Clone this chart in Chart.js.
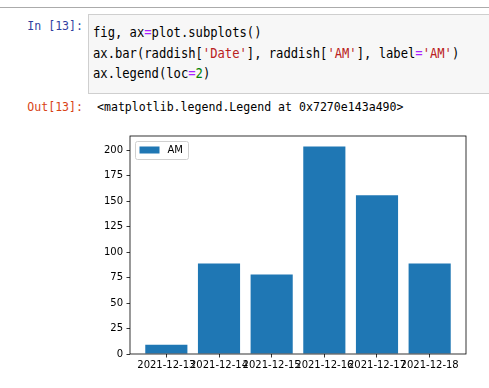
<!DOCTYPE html>
<html>
<head>
<meta charset="utf-8">
<script src="https://cdn.jsdelivr.net/npm/chart.js@4.4.1/dist/chart.umd.min.js"></script>
<style>
  html, body { margin: 0; padding: 0; background: #fff; }
  body { width: 489px; height: 388px; position: relative; overflow: hidden; }
  .rule { position: absolute; left: 0; top: 7px; width: 489px; height: 1px; background: #ababab; }
  .codebox { position: absolute; left: 88px; top: 14px; width: 401px; height: 78px;
             background: #f7f7f7; border: 1px solid #cfcfcf; border-right: none; }
  .mono { font-family: "DejaVu Sans Mono", "Liberation Mono", monospace; white-space: pre; position: absolute; }
  .code { left: 93px; top: 22px; font-size: 14px; line-height: 20.5px; color: #000;
          transform: scaleX(0.869); transform-origin: left top; }
  .prompt { width: 100px; text-align: right; font-size: 13px; transform: scaleX(0.89); transform-origin: right top; }
  .in { left: -17px; top: 18px; color: #303F9F; }
  .out { left: -17px; top: 99px; color: #D84315; }
  .result { left: 97px; top: 99px; font-size: 13px; color: #000; transform: scaleX(0.89); transform-origin: left top; }
  .op { color: #AA22FF; }
  .str { color: #BA2121; }
  .num { color: #008000; }
  #wrap { position: absolute; left: 88px; top: 126px; width: 401px; height: 262px; }
</style>
</head>
<body>
<div class="rule"></div>
<div class="codebox"></div>
<div class="mono prompt in">In [13]:</div>
<div class="mono code">fig, ax<span class="op">=</span>plot.subplots()
ax.bar(raddish[<span class="str">'Date'</span>], raddish[<span class="str">'AM'</span>], label<span class="op">=</span><span class="str">'AM'</span>)
ax.legend(loc<span class="op">=</span><span class="num">2</span>)</div>
<div class="mono prompt out">Out[13]:</div>
<div class="mono result">&lt;matplotlib.legend.Legend at 0x7270e143a490&gt;</div>
<div id="wrap"><canvas id="myChart" width="401" height="262"></canvas></div>
<script>
const dates = ['2021-12-13', '2021-12-14', '2021-12-15', '2021-12-16', '2021-12-17', '2021-12-18'];
const amValues = [9, 89, 78, 204, 156, 89];
const yTicks = [0, 25, 50, 75, 100, 125, 150, 175, 200];

const tickFont = { family: 'DejaVu Sans', size: 10 };

// spines + legend box drawn on top, like matplotlib
const frame = {
    id: 'frame',
    afterDatasetsDraw(chart) {
        const { ctx, chartArea: a } = chart;
        ctx.save();
        ctx.strokeStyle = '#000';
        ctx.lineWidth = 0.8;
        ctx.strokeRect(a.left, a.top, a.right - a.left, a.bottom - a.top);

        // legend, loc=2 (upper left)
        const ds = chart.data.datasets[0];
        const x = a.left + 5.5, y = a.top + 5.5, w = 53, h = 18, r = 2;
        ctx.beginPath();
        ctx.roundRect(x, y, w, h, r);
        ctx.fillStyle = 'rgba(255,255,255,0.8)';
        ctx.fill();
        ctx.strokeStyle = '#d0d0d0';
        ctx.lineWidth = 1;
        ctx.stroke();
        ctx.fillStyle = ds.backgroundColor;
        ctx.fillRect(x + 4, y + 5, 20, 7);
        ctx.fillStyle = '#000';
        ctx.font = '10px "DejaVu Sans"';
        ctx.textBaseline = 'middle';
        ctx.fillText(ds.label, x + 32, y + 9);
        ctx.restore();
    }
};

const ctx = document.getElementById('myChart').getContext('2d');
const myChart = new Chart(ctx, {
    type: 'bar',
    data: {
        datasets: [{
            label: 'AM',
            data: amValues.map((v, i) => ({ x: i, y: v })),
            backgroundColor: '#1f77b4',
            borderWidth: 0,
            barPercentage: 0.8,
            categoryPercentage: 1.0
        }]
    },
    options: {
        responsive: false,
        animation: false,
        layout: { padding: { top: 10, right: 23, left: 0, bottom: 0 } },
        plugins: { legend: { display: false }, tooltip: { enabled: false } },
        scales: {
            x: {
                type: 'linear',
                offset: false,
                min: -0.69,
                max: 5.69,
                afterBuildTicks: s => { s.ticks = dates.map((d, i) => ({ value: i })); },
                afterFit: s => { s.height = 34; },
                grid: { display: true, offset: false, drawOnChartArea: false, drawTicks: true,
                        tickLength: 3.5, color: '#000', lineWidth: 0.8 },
                border: { display: false },
                ticks: {
                    autoSkip: false, maxRotation: 0, minRotation: 0,
                    color: '#000', font: tickFont, padding: 2,
                    callback: v => dates[v]
                }
            },
            y: {
                min: 0,
                max: 214.2,
                afterBuildTicks: s => { s.ticks = yTicks.map(v => ({ value: v })); },
                afterFit: s => { s.width = 42; },
                grid: { display: true, drawOnChartArea: false, drawTicks: true,
                        tickLength: 3.5, color: '#000', lineWidth: 0.8 },
                border: { display: false },
                ticks: { color: '#000', font: tickFont, padding: 3.5 }
            }
        }
    },
    plugins: [frame]
});
</script>
</body>
</html>
